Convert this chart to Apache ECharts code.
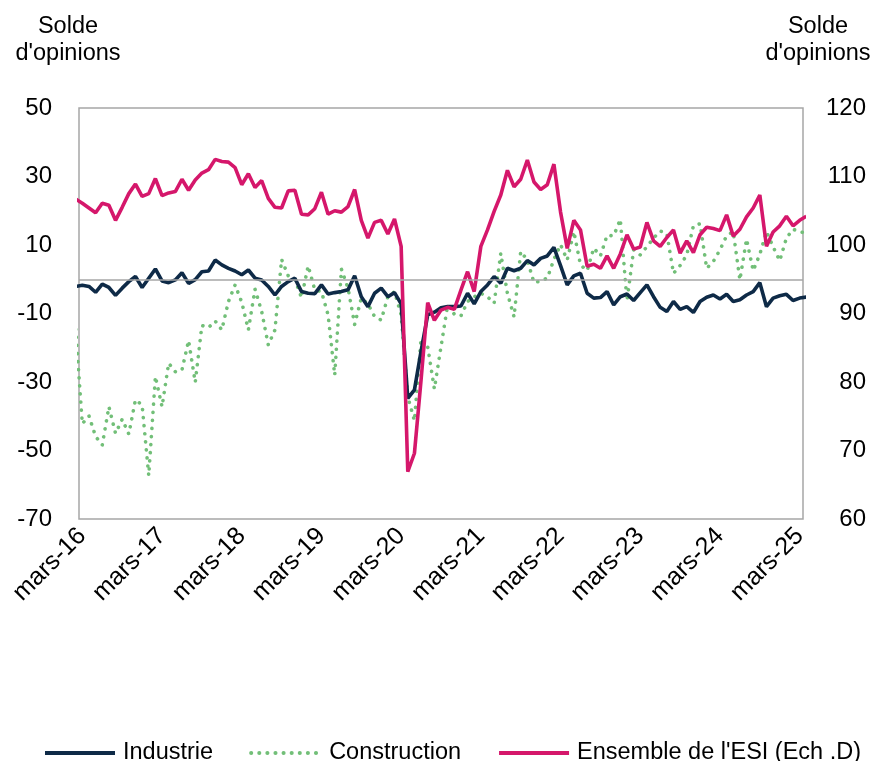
<!DOCTYPE html>
<html>
<head>
<meta charset="utf-8">
<script src="https://cdn.jsdelivr.net/npm/echarts@6/dist/echarts.min.js"></script>
<style>
  html, body { margin: 0; padding: 0; background: #fff; }
  #chart { width: 881px; height: 761px; }
</style>
</head>
<body>
<div id="chart"></div>
<script>
// mois de fév-16 à avr-25 (les deux extrêmes sont coupés par le cadre)
const tickLabels = ["mars-16", "mars-17", "mars-18", "mars-19", "mars-20",
  "mars-21", "mars-22", "mars-23", "mars-24", "mars-25"];

// Industrie (solde d'opinions, échelle gauche)
const industrie = [
  -2.1,
  -1.75, -2.1, -3.8, -1.4, -2.4, -4.7, -2.6, -0.7, 0.8, -2.4,
  0.3, 3.0, -0.5, -1.0, -0.2, 1.9, -1.2, -0.1, 2.2, 2.4,
  5.6, 4.2, 3.2, 2.4, 1.3, 2.7, 0.3, -0.2, -2.1, -4.6,
  -2.1, -0.7, 0.3, -3.6, -4.1, -4.2, -1.65, -4.3, -3.9, -3.6,
  -3.1, 1.0, -5.1, -8.0, -4.1, -2.6, -5.1, -3.9, -7.2, -34.8,
  -32.3, -21.0, -10.4, -9.6, -8.3, -8.0, -8.0, -7.8, -4.1, -7.2,
  -3.6, -1.65, 0.8, -1.2, 3.2, 2.5, 3.2, 5.45, 4.2, 6.1,
  6.8, 9.3, 4.0, -1.65, 1.0, 1.75, -4.1, -5.5, -5.35, -3.6,
  -7.5, -5.1, -4.3, -6.2, -3.9, -1.65, -5.1, -8.2, -9.4, -6.5,
  -8.8, -8.0, -9.7, -6.5, -5.25, -4.6, -5.75, -4.4, -6.5, -6.0,
  -4.6, -3.6, -1.0, -8.0, -5.5, -4.8, -4.4, -6.2, -5.5, -5.2
];

// Construction (échelle gauche)
const construction = [
  -14.6,
  -42.2, -39.9, -45.9, -48.4, -37.2, -45.0, -40.9, -45.2, -35.2, -36.7,
  -57.3, -28.4, -37.2, -24.5, -27.0, -26.5, -17.9, -30.1, -13.5, -14.1,
  -12.2, -14.8, -6.5, -1.65, -6.7, -14.8, -2.9, -9.4, -19.2, -14.8,
  5.8, 1.0, 0.0, -5.4, 3.9, -3.1, -3.6, -10.4, -28.0, 3.0,
  -2.6, -13.2, -5.5, -7.2, -10.9, -11.9, -5.1, -3.6, -10.4, -34.3,
  -41.3, -17.2, -19.7, -32.0, -19.7, -7.5, -10.2, -10.7, -6.5, -5.1,
  -4.1, -5.1, -7.0, 7.6, -4.1, -11.0, 8.1, 5.6, -1.0, -0.5,
  0.3, 5.8, 10.1, 5.6, 13.9, 4.2, 2.5, 9.1, 6.8, 12.8,
  12.7, 17.5, -6.3, 8.6, 7.1, 9.5, 12.0, 14.1, 13.4, 1.7,
  4.0, 7.1, 15.6, 16.2, 3.2, 5.2, 8.6, 12.7, 13.9, -0.2,
  11.7, 2.5, 7.3, 13.9, 9.5, 5.4, 12.0, 14.6, 13.9, 13.4
];

// Ensemble de l'ESI (échelle droite)
const esi = [
  106.7,
  106.1, 105.4, 104.7, 106.1, 105.8, 103.6, 105.5, 107.5, 108.9, 107.1,
  107.5, 109.7, 107.2, 107.6, 107.8, 109.6, 108.0, 109.5, 110.5, 111.0,
  112.5, 112.2, 112.1, 111.3, 108.8, 110.4, 108.4, 109.4, 106.8, 105.5,
  105.4, 107.9, 108.0, 104.5, 104.4, 105.3, 107.7, 104.5, 105.0, 104.8,
  105.6, 108.1, 103.6, 101.0, 103.3, 103.6, 101.6, 103.8, 99.8, 66.9,
  69.6, 80.3, 91.6, 89.0, 90.5, 90.9, 90.6, 93.4, 96.1, 93.2,
  99.8, 102.2, 104.9, 107.3, 110.9, 108.5, 109.6, 112.4, 109.2, 108.1,
  108.8, 111.8, 104.8, 99.5, 103.6, 102.2, 96.9, 97.2, 96.6, 98.4,
  96.6, 98.7, 101.5, 99.4, 99.7, 103.3, 100.6, 99.8, 101.1, 102.2,
  98.8, 100.6, 98.9, 101.5, 102.6, 102.4, 102.1, 104.4, 101.3, 102.3,
  104.1, 105.4, 107.3, 99.8, 101.9, 102.8, 104.2, 102.8, 103.6, 104.2
];

const FONT = "'Liberation Sans', Arial, sans-serif";

// index -1 = fév-16, 0 = mars-16 ...
function toPairs(arr) {
  return arr.map((v, k) => [k - 1, v]);
}

const chart = echarts.init(document.getElementById("chart"), null, { renderer: "canvas" });

const titleStyle = { fontFamily: FONT, fontSize: 23.5, fontWeight: "normal", color: "#000", lineHeight: 27 };

const option = {
  backgroundColor: "#fff",
  animation: false,
  textStyle: { fontFamily: FONT, color: "#000" },
  title: [
    { text: "Solde\nd'opinions", left: 63, top: 8, textAlign: "center", textStyle: titleStyle },
    { text: "Solde\nd'opinions", left: 813, top: 8, textAlign: "center", textStyle: titleStyle }
  ],
  legend: {
    data: ["Industrie", "Construction", "Ensemble de l'ESI (Ech .D)"],
    left: 38, top: 736,
    itemWidth: 70, itemHeight: 14, itemGap: 36,
    itemStyle: { opacity: 0 },
    lineStyle: { width: 4 },
    textStyle: { fontFamily: FONT, fontSize: 23.5, color: "#000", padding: [0, 0, 0, 3] }
  },
  grid: {
    left: 79, right: 78, top: 108, bottom: 242,
    show: true, borderColor: "#a6a6a6", borderWidth: 1.5
  },
  xAxis: {
    type: "value",
    min: -0.5, max: 108.5,
    splitLine: { show: false },
    axisLine: { show: false, onZero: false },
    axisTick: { show: false },
    axisLabel: {
      customValues: [0, 12, 24, 36, 48, 60, 72, 84, 96, 108],
      formatter: (v) => tickLabels[Math.round(v / 12)],
      rotate: 45, margin: 13,
      fontFamily: FONT, fontSize: 25, color: "#000"
    }
  },
  yAxis: [
    {
      type: "value", min: -70, max: 50, interval: 20,
      splitLine: { show: false },
      axisLine: { show: false },
      axisTick: { show: false },
      axisLabel: { margin: 27, fontFamily: FONT, fontSize: 24, color: "#000" }
    },
    {
      type: "value", position: "right", min: 60, max: 120, interval: 10,
      splitLine: { show: false },
      axisLine: { show: false },
      axisTick: { show: false },
      axisLabel: { margin: 63, align: "right", fontFamily: FONT, fontSize: 24, color: "#000" }
    }
  ],
  series: [
    {
      name: "Construction",
      type: "line",
      yAxisIndex: 0,
      data: toPairs(construction),
      symbol: "none",
      lineStyle: { color: "#72bf78", width: 3.6, type: [0.1, 8], cap: "round" },
      itemStyle: { color: "#72bf78" },
      markLine: {
        silent: true,
        symbol: "none",
        label: { show: false },
        lineStyle: { color: "#a6a6a6", width: 1.5, type: "solid" },
        data: [{ yAxis: 0 }]
      },
      z: 2
    },
    {
      name: "Industrie",
      type: "line",
      yAxisIndex: 0,
      data: toPairs(industrie),
      symbol: "none",
      lineStyle: { color: "#0e2a47", width: 3.6 },
      itemStyle: { color: "#0e2a47" },
      z: 3
    },
    {
      name: "Ensemble de l'ESI (Ech .D)",
      type: "line",
      yAxisIndex: 1,
      data: toPairs(esi),
      symbol: "none",
      lineStyle: { color: "#d5176b", width: 3.6 },
      itemStyle: { color: "#d5176b" },
      z: 4
    }
  ]
};

chart.setOption(option);
window.addEventListener("resize", () => chart.resize());
</script>
</body>
</html>
